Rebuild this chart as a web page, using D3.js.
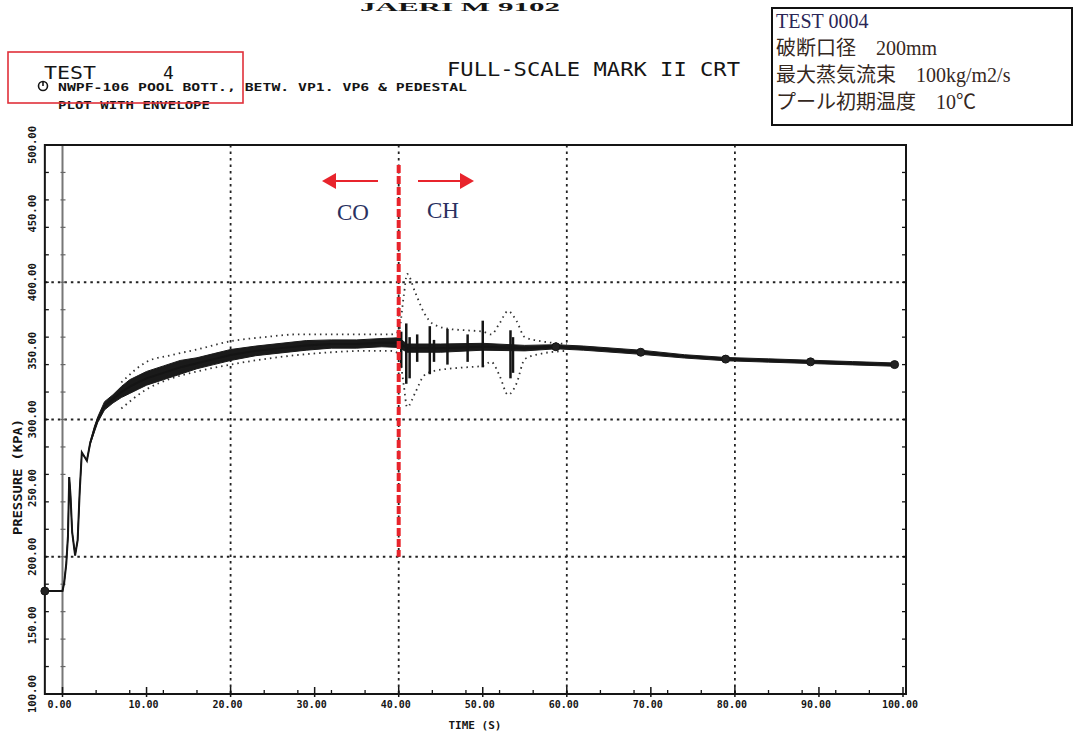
<!DOCTYPE html>
<html>
<head>
<meta charset="utf-8">
<script src="https://cdn.jsdelivr.net/npm/d3@7"></script>
<style>
	body{margin:0;background:#fff;}
	svg{display:block;}
</style>
</head>
<body>
<div class="plot"></div>
<script>
//Data
const mainT = [-2.1, 0, 0.2, 0.45, 0.65, 0.8, 0.95, 1.15, 1.5, 1.8, 2.05, 2.3, 2.6, 2.9, 3.3, 3.8, 4.2, 5, 6, 7, 8, 9, 10, 12, 14, 16, 18, 20, 23, 26, 29, 32, 35, 38, 40, 41, 45, 50, 55, 58.7, 62, 68.8, 74, 78.9, 84, 89, 94, 99];
const mainP = [175, 175, 181, 195, 215, 258, 245, 218, 201, 212, 248, 276, 273, 270, 283, 293, 300, 310, 315, 320, 324, 327, 330, 334, 338, 341, 344, 347, 350, 352, 354, 355, 355, 356, 356, 352, 352, 353, 352, 353, 352, 349, 346, 344, 343, 342, 341, 340];
const mainSpread = [0, 0, 0, 0, 0, 0, 0, 0, 0, 0, 0, 0, 0, 0, 1, 2, 2, 3, 3, 4, 5, 5, 5, 5, 5, 4, 4, 4, 3.5, 3.5, 3.5, 3, 3, 3, 3.5, 3, 3, 2.5, 2, 1.5, 1.5, 1.5, 1.2, 1.2, 1.2, 1.2, 1.2, 1.2];

//Envelope (dotted)
const envT = [7, 10, 13, 16, 20, 24, 28, 32, 36, 39, 40, 40.6, 41, 42, 43, 44, 46, 48, 50, 51, 52, 53, 54, 55, 57, 60];
const envUpper = [327, 342, 347, 351, 357, 360, 362, 362, 362, 362, 364, 390, 406, 392, 378, 370, 366, 365, 364, 362, 370, 379, 372, 360, 357, 355];
const envLower = [308, 322, 330, 335, 340, 344, 347, 349, 350, 350, 348, 325, 309, 320, 332, 335, 337, 338, 339, 342, 332, 318, 326, 344, 348, 350];

//Chugging spikes
const spikeT = [40.3, 40.9, 41.3, 42.2, 43.7, 44.2, 45.8, 48.2, 50.0, 53.3, 53.6];
const spikeLo = [338, 326, 330, 342, 333, 342, 340, 342, 338, 330, 334];
const spikeHi = [364, 370, 360, 362, 368, 358, 366, 362, 372, 365, 360];

//Plotted symbols
const markerT = [-2.1, 58.7, 68.8, 78.9, 89, 99];
const markerP = [175, 353, 349, 344, 342, 340];

//Axes
const xLabels = [0, 10, 20, 30, 40, 50, 60, 70, 80, 90, 100];
const yLabels = [100, 150, 200, 250, 300, 350, 400, 450, 500];
const xGrid = [20, 40, 60, 80];
const yGrid = [200, 300, 400];

//Texts
const infoLines = ['TEST 0004', '破断口径　200mm', '最大蒸気流束　100kg/m2/s', 'プール初期温度　10℃'];
const headerLines = ['NWPF-106  POOL BOTT., BETW. VP1. VP6 & PEDESTAL', 'PLOT WITH ENVELOPE'];

//Prepare DOM canvas
const w = 1074;
const h = 735;
const svg = d3.select('.plot').append('svg').attr('width', w).attr('height', h);

const x = d3.scaleLinear().domain([0, 100]).range([62.5, 903]);
const y = d3.scaleLinear().domain([100, 500]).range([694, 145]);
const plotFont = '"DejaVu Sans Mono", monospace';
const ink = '#151515';

const xMin = x(-2.1), xMax = 906;

//Grid
svg.selectAll('.hgrid').data(yGrid).enter().append('line')
	.attr('x1', xMin).attr('x2', xMax)
	.attr('y1', d => y(d)).attr('y2', d => y(d))
	.style('stroke', '#222').style('stroke-width', 1.8).style('stroke-dasharray', '2.5,4');
svg.selectAll('.vgrid').data(xGrid).enter().append('line')
	.attr('x1', d => x(d)).attr('x2', d => x(d))
	.attr('y1', y(500)).attr('y2', y(100))
	.style('stroke', '#222').style('stroke-width', 1.8).style('stroke-dasharray', '2.5,4');

//Zero time line
svg.append('line')
	.attr('x1', x(0)).attr('x2', x(0)).attr('y1', y(500)).attr('y2', y(100))
	.style('stroke', '#777').style('stroke-width', 2);

//Frame
svg.append('rect')
	.attr('x', xMin).attr('y', y(500)).attr('width', xMax - xMin).attr('height', y(100) - y(500))
	.style('fill', 'none').style('stroke', ink).style('stroke-width', 2);

//Ticks on frame
const yTicks = d3.range(120, 500, 20);
svg.selectAll('.ytick').data(yTicks).enter().append('line')
	.attr('x1', xMin).attr('x2', xMin + 4)
	.attr('y1', d => y(d)).attr('y2', d => y(d))
	.style('stroke', ink).style('stroke-width', 1.3);
svg.selectAll('.ytick0').data(yTicks).enter().append('line')
	.attr('x1', x(0) - 2).attr('x2', x(0) + 3)
	.attr('y1', d => y(d)).attr('y2', d => y(d))
	.style('stroke', '#666').style('stroke-width', 1.2);
svg.selectAll('.ytickr').data(yTicks).enter().append('line')
	.attr('x1', xMax - 4).attr('x2', xMax)
	.attr('y1', d => y(d)).attr('y2', d => y(d))
	.style('stroke', ink).style('stroke-width', 1.3);
const xTicks = d3.range(4, 100, 4);
svg.selectAll('.xtick').data(xTicks).enter().append('line')
	.attr('x1', d => x(d)).attr('x2', d => x(d))
	.attr('y1', y(100) - 4).attr('y2', y(100))
	.style('stroke', ink).style('stroke-width', 1.3);
svg.selectAll('.xtickM').data(xLabels).enter().append('line')
	.attr('x1', d => x(d)).attr('x2', d => x(d))
	.attr('y1', y(100) - 7).attr('y2', y(100) + 3)
	.style('stroke', ink).style('stroke-width', 1.5);

//Tick labels
svg.selectAll('.xlabel').data(xLabels).enter().append('text')
	.attr('x', d => x(d) - 3).attr('y', 708)
	.attr('text-anchor', 'middle')
	.style('font-family', plotFont).style('font-weight', 'bold').style('font-size', '10px').style('fill', ink)
	.text(d => d3.format('.2f')(d));
svg.selectAll('.ylabel').data(yLabels).enter().append('text')
	.attr('transform', d => `translate(36, ${y(d)}) rotate(-90)`)
	.attr('text-anchor', 'middle')
	.style('font-family', plotFont).style('font-weight', 'bold').style('font-size', '10.5px').style('fill', ink)
	.text(d => d3.format('.2f')(d));

//Axis titles
svg.append('text')
	.attr('x', 475).attr('y', 729).attr('text-anchor', 'middle')
	.style('font-family', plotFont).style('font-weight', 'bold').style('font-size', '11px').style('fill', ink)
	.text('TIME (S)');
svg.append('text')
	.attr('transform', 'translate(22, 477) rotate(-90)')
	.attr('text-anchor', 'middle')
	.attr('textLength', 116).attr('lengthAdjust', 'spacingAndGlyphs')
	.style('font-family', plotFont).style('font-weight', 'bold').style('font-size', '12px').style('fill', ink)
	.text('PRESSURE (KPA)');

//Envelope
const envData = envT.map((t, i) => ({t, hi: envUpper[i], lo: envLower[i]}));
['hi', 'lo'].forEach(k => {
	svg.append('path')
		.datum(envData)
		.attr('d', d3.line().x(d => x(d.t)).y(d => y(d[k])).curve(d3.curveMonotoneX))
		.style('fill', 'none').style('stroke', '#333').style('stroke-width', 1.8)
		.style('stroke-dasharray', '1.5,4');
});

//Main trace with noise band
const mainData = mainT.map((t, i) => ({t, p: mainP[i], s: mainSpread[i]}));
svg.append('path')
	.datum(mainData)
	.attr('d', d3.area().x(d => x(d.t)).y0(d => y(d.p - d.s)).y1(d => y(d.p + d.s)))
	.style('fill', '#1a1a1a').style('stroke', '#1a1a1a').style('stroke-width', 1);
svg.append('path')
	.datum(mainData)
	.attr('d', d3.line().x(d => x(d.t)).y(d => y(d.p)))
	.style('fill', 'none').style('stroke', ink).style('stroke-width', 2);

//Spikes
svg.selectAll('.spike').data(spikeT).enter().append('line')
	.attr('x1', d => x(d)).attr('x2', d => x(d))
	.attr('y1', (d, i) => y(spikeLo[i])).attr('y2', (d, i) => y(spikeHi[i]))
	.style('stroke', ink).style('stroke-width', 2.5);

//Markers
svg.selectAll('.marker').data(markerT).enter().append('circle')
	.attr('cx', d => x(d)).attr('cy', (d, i) => y(markerP[i])).attr('r', 4)
	.style('fill', '#222').style('stroke', ink).style('stroke-width', 1);

//Header texts
svg.append('text')
	.attr('x', 360).attr('y', 11)
	.style('font-family', '"Liberation Serif", serif').style('font-weight', 'bold').style('font-size', '12px').style('fill', ink)
	.attr('textLength', 200).attr('lengthAdjust', 'spacingAndGlyphs')
	.text('JAERI  M  9102');
svg.append('text')
	.attr('x', 44).attr('y', 79)
	.attr('textLength', 52).attr('lengthAdjust', 'spacingAndGlyphs')
	.style('font-family', plotFont).style('font-size', '18px').style('fill', ink)
	.text('TEST');
svg.append('text')
	.attr('x', 163).attr('y', 79)
	.style('font-family', plotFont).style('font-size', '18px').style('fill', ink)
	.text('4');
svg.append('circle')
	.attr('cx', 43).attr('cy', 86).attr('r', 4.5)
	.style('fill', 'none').style('stroke', ink).style('stroke-width', 1.6);
svg.append('line')
	.attr('x1', 43).attr('x2', 43).attr('y1', 81).attr('y2', 86)
	.style('stroke', ink).style('stroke-width', 1.6);
svg.selectAll('.hline').data(headerLines).enter().append('text')
	.attr('x', 58).attr('y', (d, i) => 91 + i * 18)
	.attr('textLength', (d, i) => i === 0 ? 409 : 152).attr('lengthAdjust', 'spacingAndGlyphs')
	.style('font-family', plotFont).style('font-weight', 'bold').style('font-size', '11px').style('fill', ink)
	.text(d => d);
svg.append('text')
	.attr('x', 447).attr('y', 76)
	.attr('textLength', 293).attr('lengthAdjust', 'spacingAndGlyphs')
	.style('font-family', plotFont).style('font-size', '19px').style('fill', ink)
	.text('FULL-SCALE MARK II CRT');

//Red box round the test label
svg.append('rect')
	.attr('x', 8).attr('y', 52).attr('width', 235).attr('height', 51)
	.style('fill', 'none').style('stroke', '#e0303a').style('stroke-width', 1.6);

//Info box
svg.append('rect')
	.attr('x', 772).attr('y', 8).attr('width', 300).attr('height', 117)
	.style('fill', '#fff').style('stroke', '#111').style('stroke-width', 2);
svg.selectAll('.info').data(infoLines).enter().append('text')
	.attr('x', 776).attr('y', (d, i) => 28 + i * 27)
	.style('font-family', '"Liberation Serif", "Noto Sans CJK JP", serif').style('font-size', '20px')
	.style('fill', (d, i) => i === 0 ? '#2a2555' : '#35281e')
	.text(d => d);

//CO / CH boundary
const redC = '#e8242c';
svg.append('line')
	.attr('x1', x(40)).attr('x2', x(40)).attr('y1', 165).attr('y2', y(200))
	.style('stroke', redC).style('stroke-width', 4).style('stroke-dasharray', '8,3');
const arrows = [{x1: 378, x2: 336, tip: 322}, {x1: 418, x2: 460, tip: 474}];
arrows.forEach(a => {
	svg.append('line')
		.attr('x1', a.x1).attr('x2', a.x2).attr('y1', 181).attr('y2', 181)
		.style('stroke', redC).style('stroke-width', 2);
	svg.append('path')
		.attr('d', `M${a.tip},181 L${a.x2},173 L${a.x2},189 Z`)
		.style('fill', redC);
});
svg.append('text')
	.attr('x', 353).attr('y', 220).attr('text-anchor', 'middle')
	.style('font-family', '"Liberation Serif", serif').style('font-size', '23px').style('fill', '#2a3060')
	.text('CO');
svg.append('text')
	.attr('x', 443).attr('y', 218).attr('text-anchor', 'middle')
	.style('font-family', '"Liberation Serif", serif').style('font-size', '23px').style('fill', '#2a3060')
	.text('CH');
</script>
</body>
</html>
